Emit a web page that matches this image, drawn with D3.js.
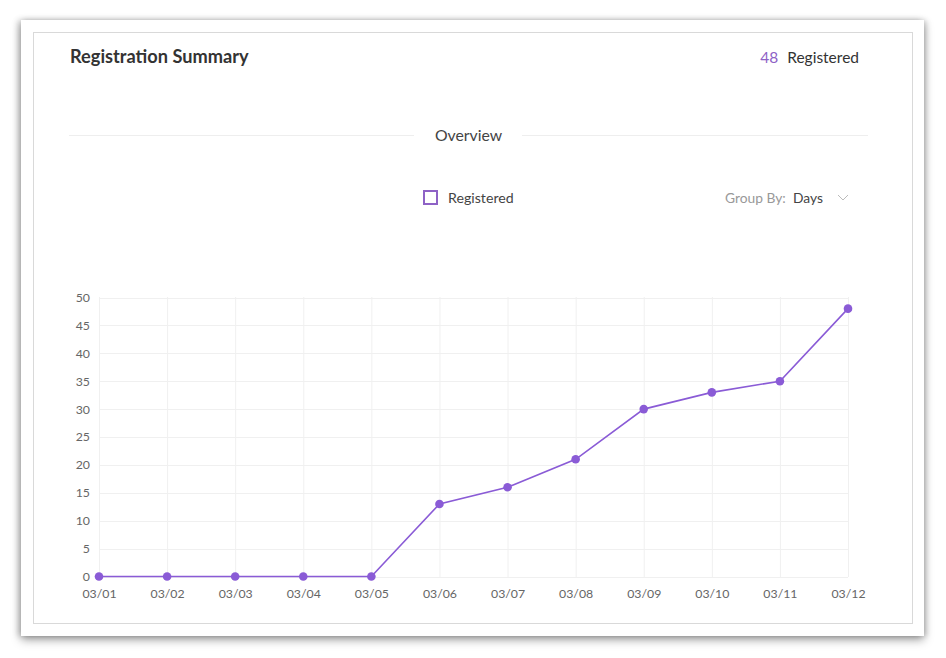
<!DOCTYPE html>
<html lang="en">
<head>
<meta charset="UTF-8">
<title>Registration Summary</title>
<script src="https://d3js.org/d3.v7.min.js"></script>
<style>
  html, body { margin: 0; padding: 0; background: #fff; }
  body { width: 946px; height: 658px; overflow: hidden; font-family: Lato, "Open Sans", sans-serif; }
  #paper {
    position: absolute; left: 21px; top: 20px; width: 903px; height: 616px;
    background: #fff;
    box-shadow: 0 4px 9px rgba(0,0,0,0.35), -3px 0 6px rgba(0,0,0,0.18), 3px 0 5px rgba(0,0,0,0.12);
  }
  svg { position: absolute; left: 0; top: 0; }
</style>
</head>
<body>
<div id="paper"></div>
<script>
// chart data
var days = ["03/01","03/02","03/03","03/04","03/05","03/06","03/07","03/08","03/09","03/10","03/11","03/12"];
var registered = [0, 0, 0, 0, 0, 13, 16, 21, 30, 33, 35, 48];
var yTicks = [0, 5, 10, 15, 20, 25, 30, 35, 40, 45, 50];
var total = 48;

var purple = "#8a5bd6";

var svg = d3.select("body").append("svg")
    .attr("width", 946)
    .attr("height", 658);

// inner frame
svg.append("rect")
    .attr("x", 33.5).attr("y", 32.5)
    .attr("width", 879).attr("height", 591)
    .attr("fill", "#fff")
    .attr("stroke", "#d9d9d9");

// header
svg.append("text")
    .attr("x", 70).attr("y", 63)
    .attr("font-size", 18.2).attr("font-weight", 700)
    .attr("fill", "#333")
    .text("Registration Summary");

var hdr = svg.append("text")
    .attr("x", 859).attr("y", 63)
    .attr("text-anchor", "end")
    .attr("font-size", 15.5);
hdr.append("tspan").attr("fill", "#8e62c6").text(total);
hdr.append("tspan").attr("fill", "#333").attr("dx", 9).text("Registered");

// overview divider
svg.append("line").attr("x1", 69).attr("x2", 414).attr("y1", 135.5).attr("y2", 135.5).attr("stroke", "#eee");
svg.append("line").attr("x1", 522).attr("x2", 868).attr("y1", 135.5).attr("y2", 135.5).attr("stroke", "#eee");
svg.append("text")
    .attr("x", 468.5).attr("y", 141)
    .attr("text-anchor", "middle")
    .attr("font-size", 15.8).attr("fill", "#444")
    .text("Overview");

// legend
svg.append("rect")
    .attr("x", 424).attr("y", 191)
    .attr("width", 13).attr("height", 13)
    .attr("fill", "none").attr("stroke", "#8e62c6").attr("stroke-width", 2);
svg.append("text")
    .attr("x", 448).attr("y", 203)
    .attr("font-size", 14.2).attr("fill", "#444")
    .text("Registered");

// group by
svg.append("text")
    .attr("x", 725).attr("y", 203)
    .attr("font-size", 13.8).attr("fill", "#999")
    .text("Group By:");
svg.append("text")
    .attr("x", 793).attr("y", 203)
    .attr("font-size", 13.8).attr("fill", "#444")
    .text("Days");
svg.append("path")
    .attr("d", "M838,195 L843,200 L848,195")
    .attr("fill", "none").attr("stroke", "#bbb").attr("stroke-width", 1);

// scales
var x = d3.scalePoint().domain(days).range([99, 848]);
var y = d3.scaleLinear().domain([0, 50]).range([576.5, 297.5]);

// grid
var grid = svg.append("g");
grid.selectAll("line.h").data(yTicks).enter().append("line")
    .attr("class", "h")
    .attr("x1", 99).attr("x2", 848)
    .attr("y1", function(d){ return Math.round(y(d)) + 0.5; })
    .attr("y2", function(d){ return Math.round(y(d)) + 0.5; })
    .attr("stroke", "#f0f0f0");
grid.selectAll("line.v").data(days).enter().append("line")
    .attr("class", "v")
    .attr("x1", function(d){ return x(d) + 0.5; })
    .attr("x2", function(d){ return x(d) + 0.5; })
    .attr("y1", 297).attr("y2", 577)
    .attr("stroke", "#f0f0f0");

// axes
var yAxis = svg.append("g")
    .attr("transform", "translate(90,0)")
    .call(d3.axisLeft(y).tickValues(yTicks).tickSize(0).tickPadding(0));
var xAxis = svg.append("g")
    .attr("transform", "translate(0,587)")
    .call(d3.axisBottom(x).tickSize(0).tickPadding(0));
[yAxis, xAxis].forEach(function(a){
    a.select(".domain").remove();
    a.selectAll("text")
        .attr("font-family", "Lato, sans-serif")
        .attr("font-size", 12.3)
        .attr("fill", "#666");
});
xAxis.selectAll("text").attr("dy", "0.9em");

// line and points
var line = d3.line()
    .x(function(d, i){ return x(days[i]); })
    .y(function(d){ return y(d); });

svg.append("path")
    .datum(registered)
    .attr("d", line)
    .attr("fill", "none")
    .attr("stroke", purple)
    .attr("stroke-width", 1.6);

svg.selectAll("circle.pt").data(registered).enter().append("circle")
    .attr("class", "pt")
    .attr("cx", function(d, i){ return x(days[i]); })
    .attr("cy", function(d){ return y(d); })
    .attr("r", 4.3)
    .attr("fill", purple);
</script>
</body>
</html>
